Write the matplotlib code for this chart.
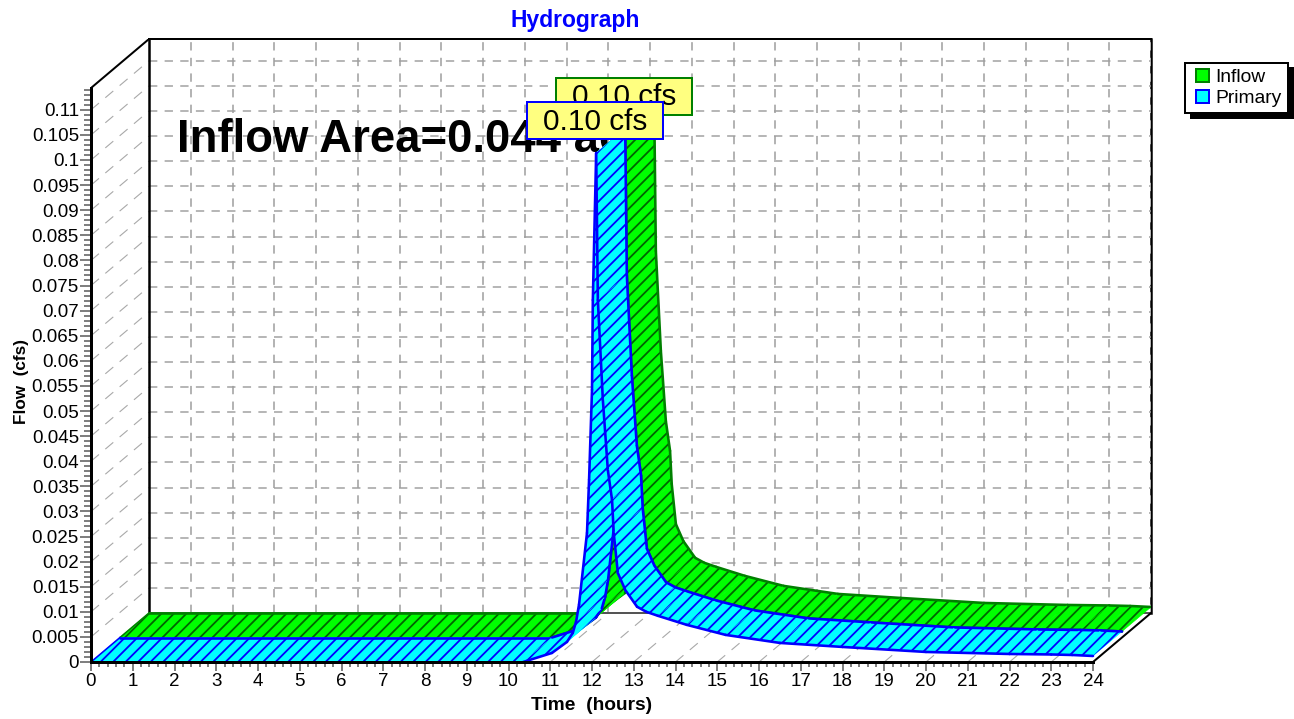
import matplotlib
matplotlib.use("Agg")
import matplotlib.pyplot as plt
from matplotlib.legend_handler import HandlerPatch
from matplotlib.patches import Polygon, Patch, Rectangle
from matplotlib.ticker import FormatStrFormatter, FuncFormatter
from matplotlib.transforms import IdentityTransform

# Hydrograph values
time_hours = [0, 10.35, 11.04, 11.4, 11.54, 11.62, 11.69, 11.88, 11.93, 12.0, 12.02, 12.1,
              12.14, 12.26, 12.38, 12.48, 12.52, 12.62, 12.8, 13.08, 13.3, 13.58, 14.27, 15.2,
              16.5, 18, 20, 22, 23, 23.5, 24]
inflow_flow = [0, 0, 0.0018, 0.004, 0.0058, 0.0081, 0.0115, 0.0257, 0.0363, 0.0542, 0.0721, 0.1014,
               0.0721, 0.0522, 0.0382, 0.0323, 0.0257, 0.0177, 0.0143, 0.011, 0.0100, 0.0092, 0.0074, 0.0054,
               0.0038, 0.003, 0.002, 0.0016, 0.0015, 0.0014, 0.0012]
primary_flow = list(inflow_flow)
x_ticks = list(range(0, 25))
y_ticks = [i * 0.005 for i in range(0, 23)]

W, H = 1294, 719
DPI = 75  # hatch spacing depends on dpi, 75 gives about the same as the original

# where the front plane sits, in pixels
PX_LEFT, PX_RIGHT, PX_BOTTOM, PX_TOP = 91, 1093, 662, 88
PX_DX, PX_DY = 58, 49  # depth offset of the back wall
PX_PER_HOUR = (PX_RIGHT - PX_LEFT) / 24.0
PX_PER_CFS = 5020.0

DX = PX_DX / PX_PER_HOUR
DY = PX_DY / PX_PER_CFS
Y_TOP = (PX_BOTTOM - PX_TOP) / PX_PER_CFS


def px(n):
    # pixels to points
    return n * 72.0 / DPI


def dashes(on, off, width):
    # dash lengths in pixels, matplotlib scales them by the line width
    return (0, (on / width, off / width))


def ribbon(ax, times, flows, d0, d1, fill, edge, hatch_color, z):
    # one strip between depth d0 and d1, segment by segment so later ones cover earlier
    front = [(t + d0 * DX, q + d0 * DY) for t, q in zip(times, flows)]
    back = [(t + d1 * DX, q + d1 * DY) for t, q in zip(times, flows)]
    for i in range(len(times) - 1):
        quad = [front[i], front[i + 1], back[i + 1], back[i]]
        ax.add_patch(Polygon(quad, closed=True, facecolor=fill, edgecolor=fill, lw=0.6, zorder=z))
        ax.add_patch(Polygon(quad, closed=True, facecolor="none", edgecolor=hatch_color, lw=0,
                             hatch="//", zorder=z))
        ax.plot([front[i][0], front[i + 1][0]], [front[i][1], front[i + 1][1]],
                color=edge, lw=px(2.6), zorder=z, solid_capstyle="round")
        ax.plot([back[i][0], back[i + 1][0]], [back[i][1], back[i + 1][1]],
                color=edge, lw=px(2.6), zorder=z, solid_capstyle="round")
        z += 0.001
    # closing edge at the start of the strip
    ax.plot([front[0][0], back[0][0]], [front[0][1], back[0][1]], color=edge, lw=px(1.6), zorder=z)


def legend_box(legend, orig_handle, xdescent, ydescent, width, height, fontsize):
    # small square at the right end of the handle slot
    size = px(13)
    return Rectangle((width - size - xdescent, (height - size) / 2 - ydescent), size, size)


plt.rcParams["font.family"] = ["Liberation Sans", "DejaVu Sans"]
plt.rcParams["hatch.linewidth"] = px(1.8)

fig = plt.figure(figsize=(W / DPI, H / DPI), dpi=DPI)
ax = fig.add_axes([PX_LEFT / W, (H - PX_BOTTOM) / H,
                   (PX_RIGHT + PX_DX - PX_LEFT) / W, (PX_BOTTOM - PX_TOP + PX_DY) / H])
ax.set_xlim(0, 24 + DX)
ax.set_ylim(0, Y_TOP + DY)

# back wall grid
for t in x_ticks[1:]:
    ax.plot([t + DX, t + DX], [DY, Y_TOP + DY], color="#b4b4b4", lw=px(2),
            ls=dashes(8, 7, px(2)), zorder=1)
for q in y_ticks[1:]:
    ax.plot([DX, 24 + DX], [q + DY, q + DY], color="#a0a0a0", lw=px(1.5),
            ls=dashes(8, 7, px(1.5)), zorder=1)
# side wall and floor diagonals
for q in y_ticks[1:]:
    ax.plot([0, DX], [q, q + DY], color="#a8a8a8", lw=px(1.1), ls=dashes(10, 8, px(1.1)), zorder=1)
for t in x_ticks[1:]:
    ax.plot([t, t + DX], [0, DY], color="#a8a8a8", lw=px(1.1), ls=dashes(10, 8, px(1.1)), zorder=1)

# frame of the 3d box
ax.plot([DX, DX], [DY, Y_TOP + DY], color="black", lw=px(2.5), zorder=1.5)
ax.plot([DX, 24 + DX], [Y_TOP + DY, Y_TOP + DY], color="black", lw=px(2), zorder=1.5, clip_on=False)
ax.plot([0, DX], [Y_TOP, Y_TOP + DY], color="black", lw=px(2), zorder=1.5)
ax.plot([DX, 24 + DX], [DY, DY], color="#555555", lw=px(2), zorder=1.5)
ax.plot([24 + DX, 24 + DX], [DY, Y_TOP + DY], color="black", lw=px(2.5), zorder=0.9, clip_on=False)
ax.plot([24, 24 + DX], [0, DY], color="black", lw=px(2), zorder=1.5)

ax.text(2.05, 0.104, "Inflow Area=0.044 ac", fontsize=43.7, fontweight="bold", color="black",
        ha="left", va="center", zorder=2)

ribbon(ax, time_hours, inflow_flow, 0.5, 1.0, "#00ff00", "#008000", "#006400", 3)
ribbon(ax, time_hours, primary_flow, 0.0, 0.5, "#00ffff", "#0000ff", "#0000ff", 4)

# axes and ticks
for side in ("top", "right"):
    ax.spines[side].set_visible(False)
ax.spines["left"].set_bounds(0, Y_TOP)
ax.spines["bottom"].set_bounds(0, 24)
ax.spines["left"].set_linewidth(px(3))
ax.spines["bottom"].set_linewidth(px(3))
ax.spines["left"].set_zorder(5)
ax.spines["bottom"].set_zorder(5)
ax.set_xticks(x_ticks)
ax.set_yticks(y_ticks)
ax.set_xticks([t * 0.2 for t in range(0, 121) if t % 5 != 0], minor=True)
ax.set_yticks([i * 0.001 for i in range(0, 115) if i % 5 != 0], minor=True)
ax.yaxis.set_major_formatter(FuncFormatter(lambda v, p: "%g" % round(v, 3)))
ax.xaxis.set_major_formatter(FormatStrFormatter("%d"))
ax.tick_params(axis="x", which="major", length=px(9), width=px(2), color="#808080",
               labelsize=18, pad=px(2))
ax.tick_params(axis="y", which="major", length=px(11), width=px(2), color="#808080",
               labelsize=18, pad=px(1))
ax.tick_params(axis="x", which="minor", length=px(5), width=px(2), color="#808080")
ax.tick_params(axis="y", which="minor", length=px(7), width=px(2), color="#808080")
ax.patch.set_visible(False)

# peak labels, boxes are sized in pixels so they are placed by hand around the peak
i_peak = inflow_flow.index(max(inflow_flow))
for depth, flow, edge, z in ((0.5, inflow_flow, "#008000", 6), (0.0, primary_flow, "#0000ff", 7)):
    px_x, px_y = ax.transData.transform((time_hours[i_peak] + depth * DX, flow[i_peak] + depth * DY))
    px_y += 32
    fig.add_artist(Rectangle((px_x - 69.5, px_y - 18.5), 136, 37, transform=IdentityTransform(),
                             facecolor="#ffff80", edgecolor=edge, lw=px(2), zorder=z))
    fig.text(px_x - 1, px_y - 1, "%.2f cfs" % flow[i_peak], fontsize=28.5, color="black",
             ha="center", va="center", transform=IdentityTransform(), zorder=z)

fig.text(575 / W, 1 - 20 / H, "Hydrograph", color="#0000ff", fontsize=22, fontweight="bold",
         ha="center", va="center")
fig.text(592 / W, 1 - 706 / H, "Time  (hours)", color="black", fontsize=18.4, fontweight="bold",
         ha="center", va="center")
fig.text(22 / W, 1 - 381 / H, "Flow  (cfs)", color="black", fontsize=16.4, fontweight="bold",
         rotation=90, ha="center", va="center")

handles = [Patch(facecolor="#00ff00", edgecolor="#008000", lw=px(2), label="Inflow"),
           Patch(facecolor="#00ffff", edgecolor="#0000ff", lw=px(2), label="Primary")]
leg = fig.legend(handles=handles, loc="upper left", bbox_to_anchor=(1185 / W, 1 - 63 / H),
                 fontsize=18.5, fancybox=False, framealpha=1, edgecolor="black",
                 shadow=dict(ox=px(6), oy=-px(5), color="black", alpha=1),
                 handler_map={Patch: HandlerPatch(patch_func=legend_box)},
                 handlelength=0.93, handleheight=0.68, handletextpad=0.36,
                 labelspacing=0.2, borderpad=0.3, borderaxespad=0)
leg.get_frame().set_linewidth(px(2))

fig.savefig("out.png", dpi=DPI)
